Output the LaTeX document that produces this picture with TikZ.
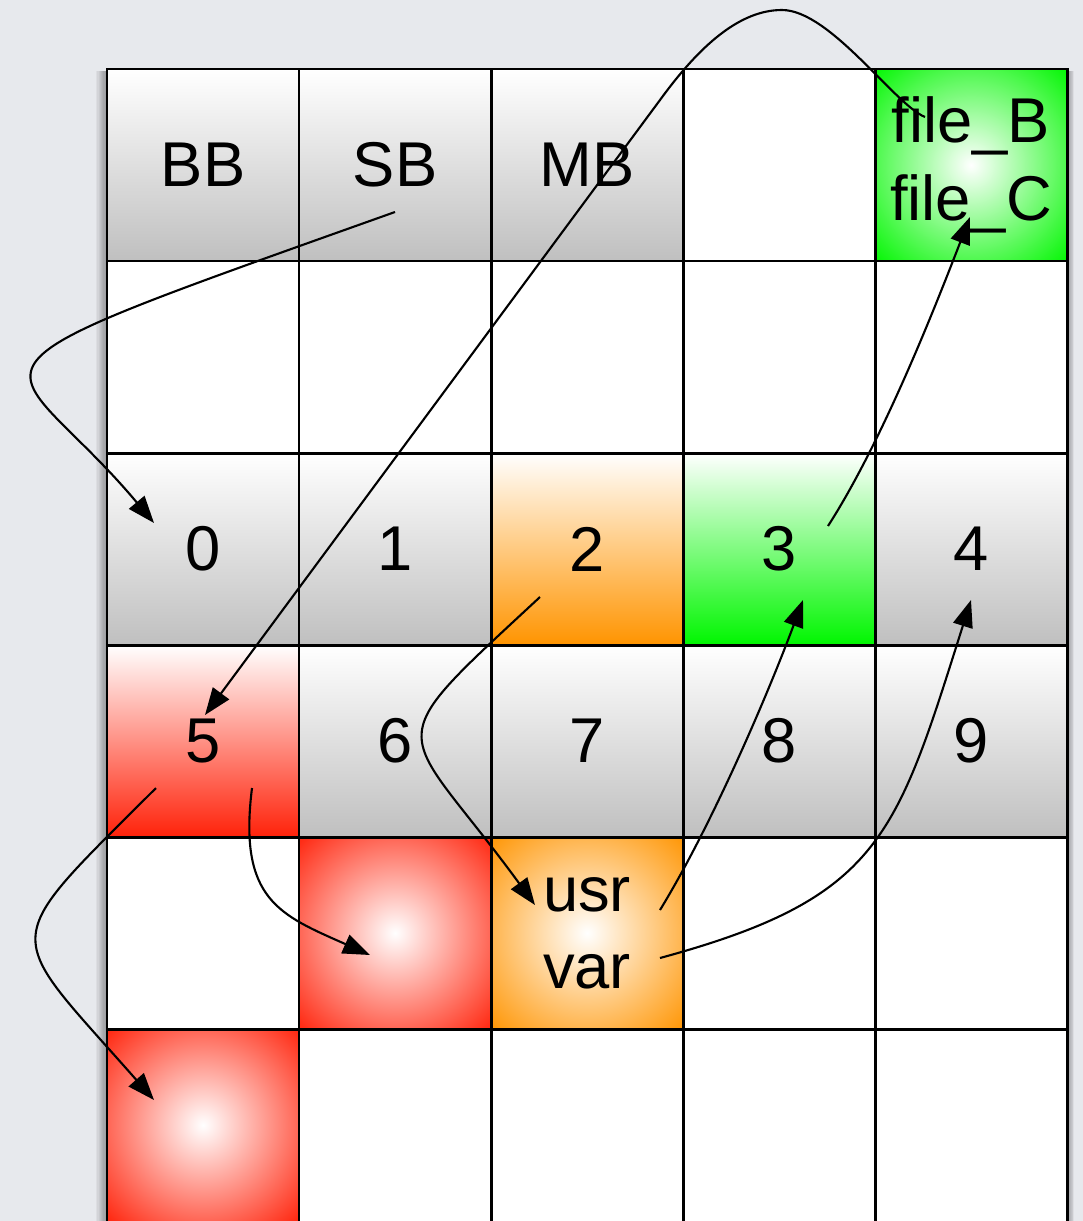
\documentclass[tikz,border=0pt]{standalone}
\usepackage{fontspec}
\setmainfont{Liberation Sans}
\usetikzlibrary{arrows.meta}
\definecolor{Paper}{RGB}{231,233,237}
\definecolor{Lime}{RGB}{0,246,0}
\definecolor{Amber}{RGB}{255,148,0}
\definecolor{Scarlet}{RGB}{255,34,10}
\pgfdeclareradialshading{glowred}{\pgfpoint{0bp}{0bp}}{color(0bp)=(white); color(36bp)=(Scarlet); color(50bp)=(Scarlet)}
\pgfdeclareradialshading{glowgreen}{\pgfpoint{0bp}{0bp}}{color(0bp)=(white); color(36bp)=(Lime); color(50bp)=(Lime)}
\pgfdeclareradialshading{glowamber}{\pgfpoint{0bp}{0bp}}{color(0bp)=(white); color(36bp)=(Amber); color(50bp)=(Amber)}

\begin{document}
\begin{tikzpicture}[x=0.01cm,y=-0.01cm,
 cell/.style={minimum size=1.92cm,inner sep=0pt,outer sep=0pt,align=center,font=\fontsize{18}{22}\selectfont},
 gry/.style={cell,top color=white,bottom color=gray!50},
 org/.style={cell,top color=white,bottom color=Amber},
 grn/.style={cell,top color=white,bottom color=Lime},
 rd/.style={cell,top color=white,bottom color=Scarlet},
 rorg/.style={cell,shading=glowamber},
 rgrn/.style={cell,shading=glowgreen},
 rrd/.style={cell,shading=glowred},
 gl/.style={line width=0.85pt,black},
 a/.style={-{Triangle[length=0.27cm,width=0.2cm]},line width=0.6pt}]
\useasboundingbox (0,0) rectangle (1083,1221);
\clip (0,0) rectangle (1083,1221);
\fill[Paper] (0,0) rectangle (1083,1221);
% soft shadow round the table
\foreach \i in {1,...,9}
  \fill[black,opacity=.045] (107-1.2*\i,71) rectangle (1067+.8*\i,1240);
\fill[white] (107,69) rectangle (1067,1240);
% first row
\node[gry] (bb) at (203,165) {BB};
\node[gry] (sb) at (395,165) {SB};
\node[gry] (mb) at (587,165) {MB};
\node[rgrn] (files) at (971,165) {file\_B\\file\_C};
% numbered blocks
\node[gry] (n0) at (203,549) {0};
\node[gry] (n1) at (395,549) {1};
\node[org] (n2) at (587,549) {2};
\node[grn] (n3) at (779,549) {3};
\node[gry] (n4) at (971,549) {4};
\node[rd] (n5) at (203,741) {5};
\node[gry] (n6) at (395,741) {6};
\node[gry] (n7) at (587,741) {7};
\node[gry] (n8) at (779,741) {8};
\node[gry] (n9) at (971,741) {9};
% data blocks
\node[rrd] (r41) at (395,933) {};
\node[rorg] (uv) at (587,933) {usr\\var};
\node[rrd] (r50) at (203,1125) {};
% grid
\draw[gl] (107,69) rectangle (1067,1240);
\foreach \x in {299,491,683,875}
  \draw[gl] (\x,69) -- (\x,1240);
\foreach \y in {261,453,645,837,1029}
  \draw[gl] (107,\y) -- (1067,\y);
% links
\draw[a] ([shift={(0,47)}]sb.center) .. controls (-90,385) and (5,345) .. ([shift={(-49,-26)}]n0.center);
\draw[a] ([shift={(-46,-48)}]files.center) .. controls (895,105) and (830,10) .. (782,10)
  .. controls (740,10) and (700,45) .. (660,100) -- ([shift={(2,-26)}]n5.center);
\draw[a] ([shift={(-47,48)}]n2.center) .. controls (372,753) and (399,719) .. ([shift={(-52,-28)}]uv.center);
\draw[a] ([shift={(73,-23)}]uv.center) .. controls (712,825) and (768,694) .. ([shift={(24,51)}]n3.center);
\draw[a] ([shift={(73,25)}]uv.center) .. controls (881,898) and (896,837) .. ([shift={(0,51)}]n4.center);
\draw[a] ([shift={(49,-23)}]n3.center) .. controls (882,442) and (934,310) .. ([shift={(-1,52)}]files.center);
\draw[a] ([shift={(-47,47)}]n5.center) .. controls (-5,949) and (2,927) .. ([shift={(-49,-25)}]r50.center);
\draw[a] ([shift={(49,47)}]n5.center) .. controls (238,900) and (280,915) .. ([shift={(-25,22)}]r41.center);
\end{tikzpicture}
\end{document}
